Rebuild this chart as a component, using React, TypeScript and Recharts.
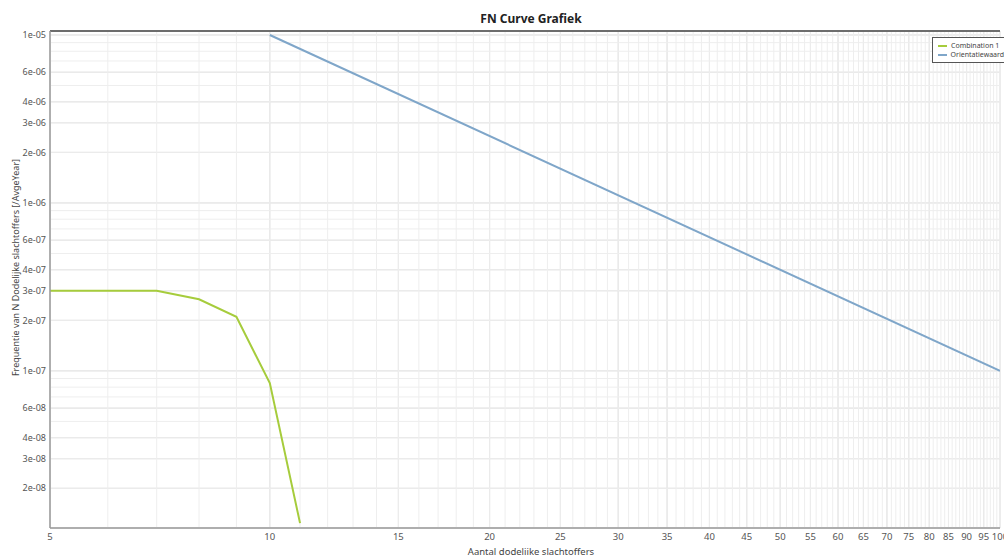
import {
  CartesianGrid,
  Label,
  Legend,
  Line,
  LineChart,
  ReferenceLine,
  XAxis,
  YAxis,
} from "recharts";

// Combination 1 (N, F)
const combinationN = [5, 6, 7, 8, 9, 10, 11];
const combinationF = [3e-7, 3e-7, 3e-7, 2.67e-7, 2.1e-7, 8.45e-8, 1.24e-8];

// Orientatiewaarde (N, F)
const orientationN = [10, 100];
const orientationF = [1e-5, 1e-7];

const xTicks = [5, 10, 15, 20, 25, 30, 35, 40, 45, 50, 55, 60, 65, 70, 75, 80, 85, 90, 95, 100];
const yTicks = [
  1e-5, 6e-6, 4e-6, 3e-6, 2e-6,
  1e-6, 6e-7, 4e-7, 3e-7, 2e-7,
  1e-7, 6e-8, 4e-8, 3e-8, 2e-8,
];

const xDomain = [5, 100];
const yDomain = [1.16e-8, 1.056e-5];

// minor grid: every integer N, every 1..9 step per decade
const xMinor: number[] = [];
for (let n = 5; n <= 100; n++) xMinor.push(n);
const yMinor: number[] = [];
for (const d of [1e-8, 1e-7, 1e-6, 1e-5]) {
  for (let m = 1; m <= 9; m++) {
    const v = m * d;
    if (v >= yDomain[0] && v <= yDomain[1]) yMinor.push(v);
  }
}

const FONT = "'Noto Sans', 'Open Sans', sans-serif";
const GREEN = "#a6cc3c";
const BLUE = "#7fa6c9";

const combinationData = combinationN.map((n, i) => ({ n, f: combinationF[i] }));
const orientationData = orientationN.map((n, i) => ({ n, f: orientationF[i] }));

function fmtExp(v: number) {
  const [m, e] = v.toExponential(0).split("e");
  const sign = e[0] === "-" ? "-" : "+";
  const digits = e.replace(/[+-]/, "").padStart(2, "0");
  return `${m}e${sign}${digits}`;
}

function LegendBox({ payload }: any) {
  return (
    <div
      style={{
        border: "1px solid #555",
        background: "#fff",
        padding: "3px 6px 3px 5px",
        fontFamily: FONT,
        fontSize: 7,
        color: "#444",
        width: 70,
        lineHeight: "9px",
      }}
    >
      {(payload || []).map((p: any) => (
        <div key={p.value} style={{ display: "flex", alignItems: "center", whiteSpace: "nowrap" }}>
          <span
            style={{
              display: "inline-block",
              width: 9,
              height: 2,
              background: p.color,
              marginRight: 4,
            }}
          />
          {p.value}
        </div>
      ))}
    </div>
  );
}

export default function App() {
  return (
    <div
      style={{
        position: "absolute",
        left: 0,
        top: 0,
        width: 1004,
        height: 555,
        overflow: "hidden",
        background: "#fff",
      }}
    >
      <div
        style={{
          position: "absolute",
          top: 10,
          left: 0,
          width: 1062,
          textAlign: "center",
          fontFamily: FONT,
          fontWeight: 700,
          fontSize: 12,
          color: "#222",
        }}
      >
        FN Curve Grafiek
      </div>
      <LineChart
        width={1004}
        height={555}
        margin={{ top: 31, right: 4, bottom: 0, left: 0 }}
      >
        {xMinor.map((v) => (
          <ReferenceLine key={`xm-${v}`} x={v} stroke="#eeeeee" strokeWidth={1} />
        ))}
        {yMinor.map((v) => (
          <ReferenceLine key={`ym-${v}`} y={v} stroke="#eeeeee" strokeWidth={1} />
        ))}
        <CartesianGrid stroke="#d6d6d6" strokeWidth={1} />
        <XAxis
          type="number"
          dataKey="n"
          scale="log"
          domain={xDomain}
          ticks={xTicks}
          allowDataOverflow
          interval={0}
          height={27}
          tickLine={false}
          tickSize={0}
          axisLine={{ stroke: "#9a9a9a", strokeWidth: 1.5 }}
          tickMargin={5}
          tick={{ fill: "#555", fontSize: 9.5, fontFamily: FONT }}
        >
          <Label
            content={({ viewBox }: any) => (
              <text
                x={viewBox.x + viewBox.width / 2 + 6}
                y={viewBox.y + 27}
                textAnchor="middle"
                fill="#444"
                fontSize={9.5}
                fontFamily={FONT}
              >
                Aantal dodelijke slachtoffers
              </text>
            )}
          />
        </XAxis>
        <YAxis
          type="number"
          dataKey="f"
          scale="log"
          domain={yDomain}
          ticks={yTicks}
          allowDataOverflow
          interval={0}
          width={50}
          tickLine={false}
          tickSize={0}
          axisLine={{ stroke: "#9a9a9a", strokeWidth: 1.5 }}
          tickMargin={4}
          tickFormatter={fmtExp}
          tick={{ fill: "#555", fontSize: 9, fontFamily: FONT }}
        >
          <Label
            content={({ viewBox }: any) => {
              const cx = viewBox.x + 19;
              const cy = viewBox.y + viewBox.height / 2 - 12;
              return (
                <text
                  x={cx}
                  y={cy}
                  transform={`rotate(-90, ${cx}, ${cy})`}
                  textAnchor="middle"
                  fill="#444"
                  fontSize={9}
                  fontFamily={FONT}
                >
                  Frequentie van N Dodelijke slachtoffers [/AvgeYear]
                </text>
              );
            }}
          />
        </YAxis>
        <ReferenceLine y={yDomain[1]} stroke="#6d6d6d" strokeWidth={2} />
        <Legend
          layout="vertical"
          align="center"
          verticalAlign="middle"
          content={<LegendBox />}
          wrapperStyle={{ top: 37, left: 932, width: 90 }}
        />
        <Line
          name="Combination 1"
          data={combinationData}
          dataKey="f"
          stroke={GREEN}
          strokeWidth={2}
          dot={false}
          isAnimationActive={false}
        />
        <Line
          name="Orientatiewaarde"
          data={orientationData}
          dataKey="f"
          stroke={BLUE}
          strokeWidth={2}
          dot={false}
          isAnimationActive={false}
        />
      </LineChart>
    </div>
  );
}
